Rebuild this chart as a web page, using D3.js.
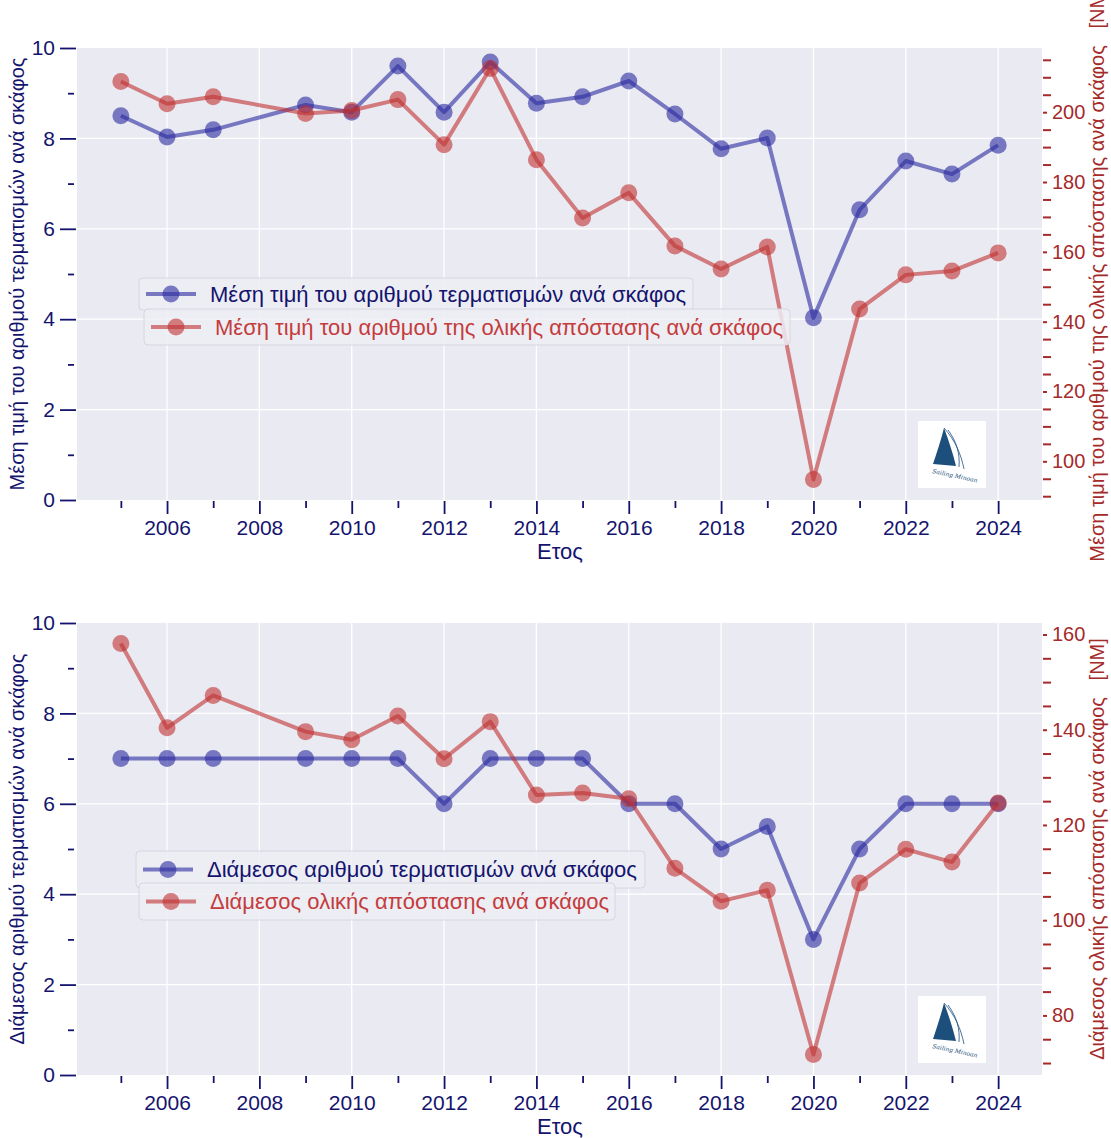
<!DOCTYPE html>
<html>
<head>
<meta charset="utf-8">
<script src="https://cdn.jsdelivr.net/npm/d3@7"></script>
<style>
  body { margin: 0; background: #fff; }
  text { font-family: "Liberation Sans", Arial, sans-serif; }
</style>
</head>
<body>
<svg id="chart" width="1111" height="1138"></svg>
<script>
// data (2008 has no value)
var years = [2005,2006,2007,2009,2010,2011,2012,2013,2014,2015,2016,2017,2018,2019,2020,2021,2022,2023,2024];
var meanFinishes = [8.50,8.03,8.19,8.74,8.58,9.60,8.58,9.69,8.78,8.92,9.27,8.54,7.77,8.01,4.03,6.42,7.50,7.21,7.85];
var meanDistance = [208.8,202.4,204.4,199.6,200.5,203.6,190.7,212.5,186.4,169.7,176.9,161.7,155.1,161.4,94.8,143.6,153.4,154.5,159.7];
var medianFinishes = [7,7,7,7,7,7,6,7,7,7,6,6,5,5.5,3,5,6,6,6];
var medianDistance = [158.1,140.4,147.2,139.6,137.9,142.9,133.9,141.7,126.3,126.7,125.5,110.9,104.0,106.3,71.8,107.8,114.9,112.2,124.6];

var xMajorTicks = [2006,2008,2010,2012,2014,2016,2018,2020,2022,2024];
var xMinorTicks = [2005,2007,2009,2011,2013,2015,2017,2019,2021,2023];
var leftMajorTicks = [0,2,4,6,8,10];
var leftMinorTicks = [1,3,5,7,9];

var svg = d3.select("#chart");
var L = 77, R = 1042, H = 452;
var blue = "#2a2aa0", red = "#c03030";
var navyText = "#14146e", redAxis = "#a52a2a", redText = "#c43c3c";

function drawPanel(top, cfg) {
	var g = svg.append("g").attr("transform", "translate(0," + top + ")");

	var x = d3.scaleLinear().domain([2004.05, 2024.95]).range([L, R]);
	var yL = d3.scaleLinear().domain([0, 10]).range([H, 0]);
	var ext = d3.extent(cfg.right);
	var pad = (ext[1] - ext[0]) * 0.05;
	var yR = d3.scaleLinear().domain([ext[0] - pad, ext[1] + pad]).range([H, 0]);

	g.append("rect").attr("x", L).attr("y", 0).attr("width", R - L).attr("height", H)
		.attr("fill", "#eaeaf2");

	// grid
	g.selectAll(".vgrid").data(xMajorTicks).enter().append("line")
		.attr("x1", function(d) { return x(d); }).attr("x2", function(d) { return x(d); })
		.attr("y1", 0).attr("y2", H).attr("stroke", "#fff").attr("stroke-width", 1.3);
	g.selectAll(".hgrid").data([2,4,6,8]).enter().append("line")
		.attr("y1", function(d) { return yL(d); }).attr("y2", function(d) { return yL(d); })
		.attr("x1", L).attr("x2", R).attr("stroke", "#fff").attr("stroke-width", 1.3);

	// x axis
	var xa = g.append("g").attr("transform", "translate(0," + (H + 1) + ")")
		.call(d3.axisBottom(x).tickValues(xMajorTicks).tickFormat(d3.format("d")).tickSize(13).tickPadding(6));
	var xm = g.append("g").attr("transform", "translate(0," + (H + 1) + ")")
		.call(d3.axisBottom(x).tickValues(xMinorTicks).tickFormat("").tickSize(7));

	// left axis
	var la = g.append("g").attr("transform", "translate(" + (L - 1) + ",0)")
		.call(d3.axisLeft(yL).tickValues(leftMajorTicks).tickSize(16).tickPadding(5));
	var lm = g.append("g").attr("transform", "translate(" + (L - 3) + ",0)")
		.call(d3.axisLeft(yL).tickValues(leftMinorTicks).tickFormat("").tickSize(6));

	[xa, xm, la, lm].forEach(function(a) {
		a.select(".domain").remove();
		a.selectAll("line").attr("stroke", navyText).attr("stroke-width", 1.8);
		a.selectAll("text").attr("fill", navyText).style("font-size", "21px")
			.style("font-family", "Liberation Sans, Arial, sans-serif");
	});

	// right axis
	var rMajor = d3.range(Math.ceil(yR.domain()[0] / 20) * 20, yR.domain()[1], 20);
	var rMinor = d3.range(Math.ceil(yR.domain()[0] / 5) * 5, yR.domain()[1], 5)
		.filter(function(v) { return v % 20 != 0; });
	var ra = g.append("g").attr("transform", "translate(" + (R + 1) + ",0)")
		.call(d3.axisRight(yR).tickValues(rMajor).tickSize(4).tickPadding(5));
	var rm = g.append("g").attr("transform", "translate(" + (R + 1) + ",0)")
		.call(d3.axisRight(yR).tickValues(rMinor).tickFormat("").tickSize(8));
	[ra, rm].forEach(function(a) {
		a.select(".domain").remove();
		a.selectAll("line").attr("stroke", redAxis).attr("stroke-width", 2);
		a.selectAll("text").attr("fill", redAxis).style("font-size", "20px")
			.style("font-family", "Liberation Sans, Arial, sans-serif");
	});

	// axis titles
	g.append("text").attr("transform", "translate(19," + (H / 2) + ") rotate(-90)")
		.attr("text-anchor", "middle").attr("dominant-baseline", "middle")
		.attr("fill", navyText).style("font-size", "20px").text(cfg.leftLabel);
	g.append("text").attr("transform", "translate(1099," + (H / 2) + ") rotate(-90)")
		.attr("text-anchor", "middle").attr("dominant-baseline", "middle")
		.attr("fill", redAxis).style("font-size", "20px").style("white-space", "pre")
		.text(cfg.rightLabel);
	g.append("text").attr("x", 560).attr("y", H + 59).attr("text-anchor", "middle")
		.attr("fill", navyText).style("font-size", "22px").text("Ετος");

	// logo
	drawLogo(g, 918, H - 79);

	// series
	var series = [
		{vals: cfg.left, y: yL, color: blue},
		{vals: cfg.right, y: yR, color: red}
	];
	series.forEach(function(s) {
		var pts = years.map(function(yr, i) { return [x(yr), s.y(s.vals[i])]; });
		g.append("path").attr("d", d3.line()(pts)).attr("fill", "none")
			.attr("stroke", s.color).attr("stroke-width", 4).attr("stroke-opacity", 0.6)
			.attr("stroke-linejoin", "round");
		g.selectAll(null).data(pts).enter().append("circle")
			.attr("cx", function(d) { return d[0]; }).attr("cy", function(d) { return d[1]; })
			.attr("r", 8.5).attr("fill", s.color).attr("fill-opacity", 0.6);
	});

	// legends
	drawLegend(g, cfg.leg1, blue, navyText);
	drawLegend(g, cfg.leg2, red, redText);
}

function drawLegend(g, lg, color, textColor) {
	g.append("rect").attr("x", lg.x).attr("y", lg.y).attr("width", lg.w).attr("height", lg.h)
		.attr("rx", 4).attr("fill", "#ededf4").attr("fill-opacity", 0.85)
		.attr("stroke", "#d6d6e0").attr("stroke-width", 1);
	var cy = lg.y + lg.h / 2;
	g.append("line").attr("x1", lg.x + 7).attr("x2", lg.x + 57).attr("y1", cy).attr("y2", cy)
		.attr("stroke", color).attr("stroke-width", 4).attr("stroke-opacity", 0.6);
	g.append("circle").attr("cx", lg.x + 32).attr("cy", cy).attr("r", 8.5)
		.attr("fill", color).attr("fill-opacity", 0.6);
	g.append("text").attr("x", lg.x + 71).attr("y", cy).attr("dominant-baseline", "central")
		.attr("fill", textColor).style("font-size", "22px").text(lg.text);
}

function drawLogo(g, x0, y0) {
	var lg = g.append("g").attr("transform", "translate(" + x0 + "," + y0 + ")");
	lg.append("rect").attr("width", 68).attr("height", 67).attr("fill", "#fff");
	lg.append("path").attr("d", "M26,7 C31,20 35,33 38,45 L15,43 C19,31 23,19 26,7 Z")
		.attr("fill", "#1d4f7c");
	lg.append("path").attr("d", "M26,7 C37,19 43,33 46,48 M30,9 C39,21 42,33 41,46")
		.attr("fill", "none").attr("stroke", "#1d4f7c").attr("stroke-width", 0.8);
	lg.append("text").attr("x", 14).attr("y", 52).attr("transform", "rotate(12,14,52)")
		.attr("fill", "#1d4f7c").style("font-size", "6px").style("font-style", "italic")
		.style("font-family", "DejaVu Serif, serif").text("Sailing Minoan");
}

drawPanel(48, {
	left: meanFinishes, right: meanDistance,
	leftLabel: "Μέση τιμή του αριθμού τερματισμών ανά σκάφος",
	rightLabel: "Μέση τιμή του αριθμού της ολικής απόστασης ανά σκάφος   [NM]",
	leg1: {x: 139, y: 230, w: 554, h: 32, text: "Μέση τιμή του αριθμού τερματισμών ανά σκάφος"},
	leg2: {x: 144, y: 261, w: 646, h: 36, text: "Μέση τιμή του αριθμού της ολικής απόστασης ανά σκάφος"}
});

drawPanel(623, {
	left: medianFinishes, right: medianDistance,
	leftLabel: "Διάμεσος αριθμού τερματισμών ανά σκάφος",
	rightLabel: "Διάμεσος ολικής απόστασης ανά σκάφος   [NM]",
	leg1: {x: 136, y: 228, w: 509, h: 37, text: "Διάμεσος αριθμού τερματισμών ανά σκάφος"},
	leg2: {x: 139, y: 260, w: 476, h: 37, text: "Διάμεσος ολικής απόστασης ανά σκάφος"}
});
</script>
</body>
</html>
